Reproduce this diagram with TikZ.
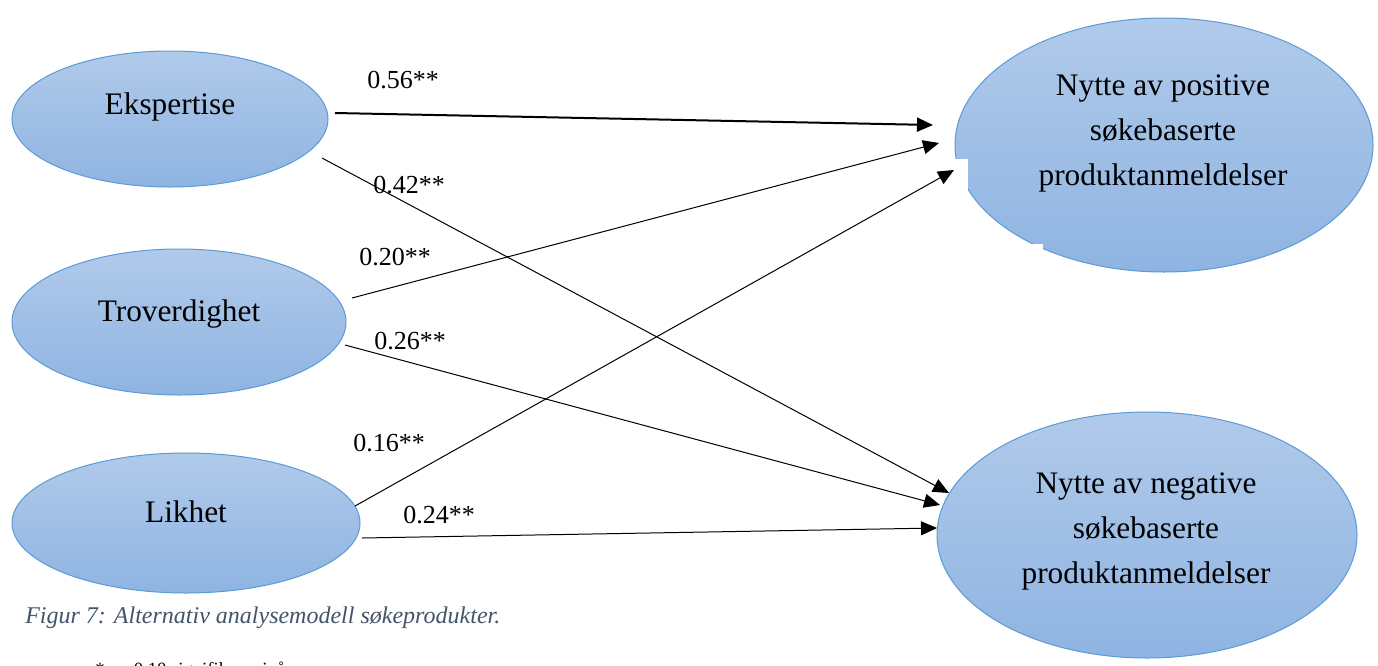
\documentclass[tikz,border=0pt]{standalone}
\usepackage{fontspec}
\setmainfont{Liberation Serif}
\usetikzlibrary{shapes.geometric,arrows.meta,calc}
\definecolor{elfillA}{HTML}{B0CAEA}
\definecolor{elfillB}{HTML}{8FB4E2}
\definecolor{elline}{HTML}{5B9BD5}
\definecolor{capcol}{HTML}{44546A}
\begin{document}
\begin{tikzpicture}[x=0.75pt,y=-0.75pt,
  latent/.style={ellipse, draw=elline, line width=0.75pt, top color=elfillA, bottom color=elfillB, inner sep=0pt},
  nodetext/.style={font=\fontsize{23.5}{33.75}\selectfont, align=center, inner sep=0pt},
  coef/.style={font=\fontsize{19.5}{23}\selectfont, inner sep=0pt},
  effect/.style={draw, line width=0.75pt, -{Triangle[length=12pt,width=10.5pt]}},
]
\useasboundingbox (0,0) rectangle (1378,665);
% latent variables
\node[latent, minimum width=237pt, minimum height=102pt] (eks) at (170,119) {};
\node[latent, minimum width=250.5pt, minimum height=109.5pt] (tro) at (179,322) {};
\node[latent, minimum width=261pt, minimum height=105pt] (lik) at (186,523) {};
\node[latent, minimum width=313.5pt, minimum height=190.5pt] (pos) at (1164,145) {};
\node[latent, minimum width=315pt, minimum height=184.5pt] (neg) at (1147,535) {};
% white patches as in the source
\fill[white] (955,159) rectangle (968,196);
\fill[white] (1010,244) rectangle (1043,262);
% texts
\node[nodetext, anchor=base] (eksT) at (170,114) {Ekspertise};
\node[nodetext, anchor=base] (troT) at (179,321) {Troverdighet};
\node[nodetext, anchor=base] (likT) at (186,522) {Likhet};
\node[nodetext] (posT) at (1163,133) {Nytte av positive\\søkebaserte\\produktanmeldelser};
\node[nodetext] (negT) at (1146,531) {Nytte av negative\\søkebaserte\\produktanmeldelser};
% effects
\draw[effect, line width=1.5pt] ($(eks.center)+(165,-6)$) -- ($(pos.center)+(-231,-20)$);
\draw[effect] ($(eks.center)+(152,39)$) -- ($(neg.center)+(-198,-42)$);
\draw[effect] ($(tro.center)+(173,-24)$) -- ($(pos.center)+(-225,-2)$);
\draw[effect] ($(tro.center)+(166,23)$) -- ($(neg.center)+(-207,-30)$);
\draw[effect] ($(lik.center)+(169,-17)$) -- ($(pos.center)+(-210,25)$);
\draw[effect] ($(lik.center)+(176,15)$) -- ($(neg.center)+(-210,-7)$);
% coefficients
\node[coef] (c1) at (403,80) {0.56**};
\node[coef] (c2) at (409,185) {0.42**};
\node[coef] (c3) at (395,257) {0.20**};
\node[coef] (c4) at (410,341) {0.26**};
\node[coef] (c5) at (389,443) {0.16**};
\node[coef] (c6) at (439,515) {0.24**};
% caption
\node[anchor=base west, font=\fontsize{18}{22}\selectfont\itshape, text=capcol, inner sep=0pt] (cap) at (25,623) {Figur 7: Alternativ analysemodell søkeprodukter.};
\node[anchor=base west, font=\fontsize{14}{17}\selectfont, inner sep=0pt] (sig) at (95,675) {*\hspace{10.5pt}= 0.10 signifikansnivå};
\end{tikzpicture}
\end{document}
